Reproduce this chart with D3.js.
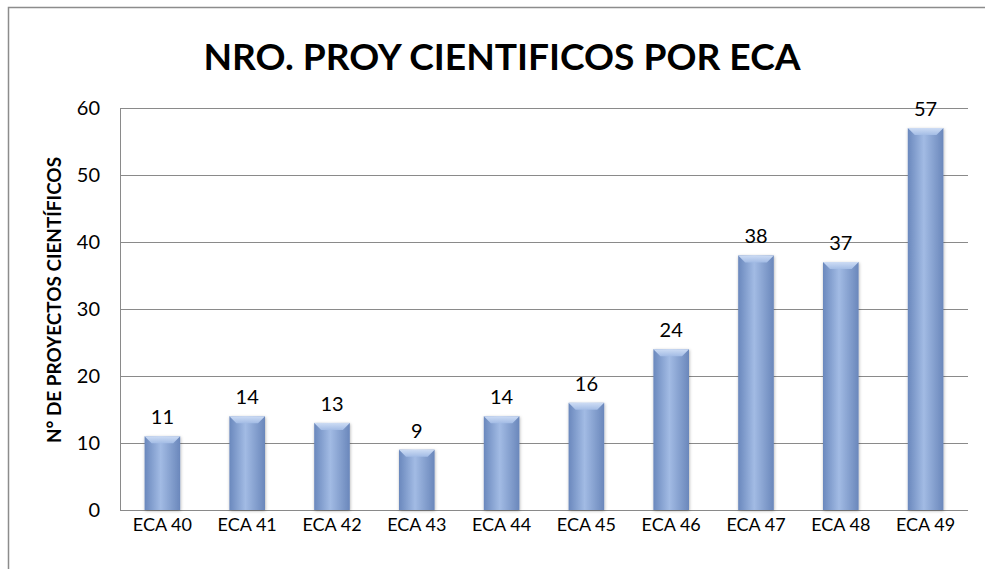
<!DOCTYPE html>
<html>
<head>
<meta charset="utf-8">
<script src="https://cdn.jsdelivr.net/npm/d3@7"></script>
<style>
body { margin: 0; background: #fff; }
text { font-family: Lato, "Open Sans", "Liberation Sans", sans-serif; }
</style>
</head>
<body>
<div id="svgDiv"></div>
<script>
var w = 985;
var h = 569;

var categories = ['ECA 40', 'ECA 41', 'ECA 42', 'ECA 43', 'ECA 44', 'ECA 45', 'ECA 46', 'ECA 47', 'ECA 48', 'ECA 49'];
var values = [11, 14, 13, 9, 14, 16, 24, 38, 37, 57];
var yTicks = [0, 10, 20, 30, 40, 50, 60];

var svg = d3.select("#svgDiv")
	.append("svg")
	.attr("width", w)
	.attr("height", h);

// chart frame
svg.append("rect")
	.attr("x", 8.5).attr("y", 7.5)
	.attr("width", w + 20).attr("height", h + 20)
	.style("fill", "none")
	.style("stroke", "#8c8c8c")
	.style("stroke-width", "1.5px");

var margin = {left: 120, right: 968, top: 108, bottom: 510};

var x = d3.scaleBand()
	.domain(categories)
	.range([margin.left, margin.right])
	.paddingInner(0.58)
	.paddingOuter(0.29);

var y = d3.scaleLinear()
	.domain([0, 60])
	.range([margin.bottom, margin.top]);

var defs = svg.append("defs");
var grad = defs.append("linearGradient")
	.attr("id", "barGrad")
	.attr("x1", "0%").attr("x2", "100%")
	.attr("y1", "0%").attr("y2", "0%");
grad.append("stop").attr("offset", "0%").attr("stop-color", "#6a88bd");
grad.append("stop").attr("offset", "45%").attr("stop-color", "#a2bbe4");
grad.append("stop").attr("offset", "100%").attr("stop-color", "#6a87bb");

var capGrad = defs.append("linearGradient")
	.attr("id", "capGrad")
	.attr("x1", "0%").attr("x2", "0%")
	.attr("y1", "0%").attr("y2", "100%");
capGrad.append("stop").attr("offset", "0%").attr("stop-color", "#cddcf4");
capGrad.append("stop").attr("offset", "100%").attr("stop-color", "#a3bce5");

var filt = defs.append("filter").attr("id", "shadow")
	.attr("x", "-30%").attr("y", "-10%").attr("width", "160%").attr("height", "120%");
filt.append("feDropShadow")
	.attr("dx", 0.5).attr("dy", 1).attr("stdDeviation", 1.5)
	.attr("flood-color", "#000").attr("flood-opacity", 0.3);

// gridlines
svg.append("g")
	.selectAll("line")
	.data(yTicks)
	.enter()
	.append("line")
	.attr("x1", margin.left)
	.attr("x2", margin.right)
	.attr("y1", function(d) { return Math.round(y(d)) + 0.5; })
	.attr("y2", function(d) { return Math.round(y(d)) + 0.5; })
	.style("stroke", "#8a8a8a")
	.style("stroke-width", "1px");

// y axis line
svg.append("line")
	.attr("x1", margin.left + 0.5).attr("x2", margin.left + 0.5)
	.attr("y1", margin.top).attr("y2", margin.bottom + 1)
	.style("stroke", "#8a8a8a");

// y tick labels
svg.append("g")
	.selectAll("text")
	.data(yTicks)
	.enter()
	.append("text")
	.attr("x", 100)
	.attr("y", function(d) { return y(d); })
	.attr("dy", "0.35em")
	.attr("text-anchor", "end")
	.style("font-size", "20px")
	.style("fill", "#000")
	.text(function(d) { return d; });

// bars
var bars = svg.append("g")
	.selectAll(".bar")
	.data(values)
	.enter()
	.append("g")
	.classed("bar", true)
	.attr("filter", "url(#shadow)");

bars.append("rect")
	.attr("x", function(d, i) { return x(categories[i]); })
	.attr("y", function(d) { return y(d); })
	.attr("width", x.bandwidth())
	.attr("height", function(d) { return y(0) - y(d); })
	.style("fill", "url(#barGrad)");

// bevel top cap
bars.append("path")
	.attr("d", function(d, i) {
		var x0 = x(categories[i]), x1 = x0 + x.bandwidth(), y0 = y(d), b = 7;
		return "M" + x0 + "," + y0 + "L" + x1 + "," + y0 + "L" + (x1 - b) + "," + (y0 + b) + "L" + (x0 + b) + "," + (y0 + b) + "Z";
	})
	.style("fill", "url(#capGrad)");

// value labels
svg.append("g")
	.selectAll("text")
	.data(values)
	.enter()
	.append("text")
	.attr("x", function(d, i) { return x(categories[i]) + x.bandwidth() / 2; })
	.attr("y", function(d) { return y(d) - 12; })
	.attr("text-anchor", "middle")
	.style("font-size", "20px")
	.style("fill", "#000")
	.text(function(d) { return d; });

// category labels
svg.append("g")
	.selectAll("text")
	.data(categories)
	.enter()
	.append("text")
	.attr("x", function(d) { return x(d) + x.bandwidth() / 2; })
	.attr("y", 531)
	.attr("text-anchor", "middle")
	.style("font-size", "18px")
	.style("fill", "#000")
	.text(function(d) { return d; });

// y axis title
svg.append("text")
	.attr("transform", "translate(61,300) rotate(-90)")
	.attr("text-anchor", "middle")
	.attr("textLength", 286)
	.attr("lengthAdjust", "spacingAndGlyphs")
	.style("font-size", "18px")
	.style("font-weight", "bold")
	.style("fill", "#000")
	.text("N° DE PROYECTOS CIENTÍFICOS");

// title
svg.append("text")
	.attr("x", 502)
	.attr("y", 70)
	.attr("text-anchor", "middle")
	.attr("textLength", 597)
	.attr("lengthAdjust", "spacingAndGlyphs")
	.style("font-size", "37px")
	.style("font-weight", "bold")
	.style("fill", "#000")
	.text("NRO. PROY CIENTIFICOS POR ECA");
</script>
</body>
</html>
